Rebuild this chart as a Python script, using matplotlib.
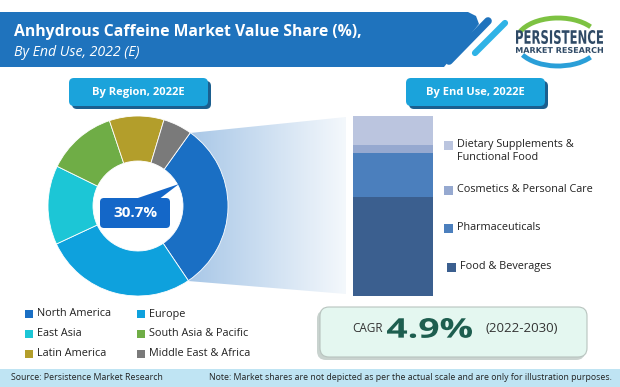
import numpy as np
import matplotlib
matplotlib.use("Agg")
import matplotlib.pyplot as plt
from matplotlib.patches import FancyBboxPatch, Polygon, Rectangle, PathPatch, Arc
from matplotlib.textpath import TextPath
from matplotlib.font_manager import FontProperties
from matplotlib.transforms import Affine2D

plt.rcParams['font.family'] = ['Open Sans', 'DejaVu Sans']

# donut data (by region, 2022E)
regions = ['North America', 'Europe', 'East Asia', 'South Asia & Pacific',
           'Latin America', 'Middle East & Africa']
region_share = [30.7, 27.5, 14.2, 12.6, 9.8, 5.2]
region_colors = ['#1a6fc4', '#0ea1dd', '#1cc6d6', '#6fad46', '#b39e2b', '#7a7a7a']

# stacked bar data (by end use, 2022E), bottom to top
end_uses = ['Food & Beverages', 'Pharmaceuticals', 'Cosmetics & Personal Care',
            'Dietary Supplements &\nFunctional Food']
end_use_share = [55.2, 24.1, 4.6, 16.1]
end_use_colors = ['#3b5f8f', '#4b7fbd', '#96a9d0', '#bbc5df']

highlight = '30.7%'
cagr = '4.9%'

W, H = 620, 387
fig = plt.figure(figsize=(W / 100, H / 100), dpi=100)

# background layer in pixel coordinates
bg = fig.add_axes([0, 0, 1, 1])
bg.set_xlim(0, W)
bg.set_ylim(H, 0)
bg.axis('off')

# title banner
banner = Polygon([(0, 12), (468, 12), (476, 16), (479, 24), (444, 67), (0, 67)],
                 closed=True, fc='#1f73bd', ec='none', zorder=2)
bg.add_patch(banner)
bg.plot([449, 488], [61, 21], color='#1f73bd', lw=5.5, solid_capstyle='round', zorder=2)
bg.plot([475, 505], [53, 23], color='#2fb3e6', lw=4.5, solid_capstyle='round', zorder=2)
bg.text(14, 32, 'Anhydrous Caffeine Market Value Share (%),', color='white',
        fontsize=11.3, fontweight='bold', va='center', zorder=3)
bg.text(14, 52, 'By End Use, 2022 (E)', color='white', fontsize=10.2,
        fontstyle='italic', va='center', zorder=3)


def fit_text(ax, s, x0, x1, ybase, height, color, family='DejaVu Sans', weight='bold'):
    tp = TextPath((0, 0), s, size=10, prop=FontProperties(family=family, weight=weight))
    ext = tp.get_extents()
    sx = (x1 - x0) / ext.width
    sy = height / ext.height
    tr = Affine2D().translate(-ext.x0, -ext.y0).scale(sx, -sy).translate(x0, ybase)
    ax.add_patch(PathPatch(tr.transform_path(tp), fc=color, ec='none', zorder=4))


# logo
bg.add_patch(Arc((558, 42), 84, 48, theta1=195, theta2=335, color='#7dc242', lw=3.5, zorder=3))
bg.add_patch(Arc((558, 42), 84, 48, theta1=25, theta2=160, color='#2a9fd8', lw=3.5, zorder=3))
fit_text(bg, 'PERSISTENCE', 516, 603, 44, 14, '#2f4a66')
fit_text(bg, 'MARKET RESEARCH', 516, 603, 53, 6, '#2f4a66')

# section badges
for x0, label in [(69, 'By Region, 2022E'), (406, 'By End Use, 2022E')]:
    bg.add_patch(FancyBboxPatch((x0 + 3, 81), 139, 28, boxstyle='round,pad=0,rounding_size=5',
                                fc='#1b5f8f', ec='none', zorder=2))
    bg.add_patch(FancyBboxPatch((x0, 78), 139, 28, boxstyle='round,pad=0,rounding_size=5',
                                fc='#1ba3db', ec='none', zorder=3))
    bg.text(x0 + 69, 92, label, color='white', fontsize=8, fontweight='bold',
            ha='center', va='center', zorder=4)

# funnel from donut to bar
funnel = Polygon([(190, 133), (346, 117), (346, 294), (188, 281)], closed=True,
                 fc='none', ec='none')
bg.add_patch(funnel)
grad = np.linspace(0, 1, 256).reshape(1, -1)
cmap = matplotlib.colors.LinearSegmentedColormap.from_list('f', ['#a8c7e7', '#f4f8fc'])
im = bg.imshow(grad, cmap=cmap, extent=[188, 346, 294, 117], aspect='auto', zorder=1)
im.set_clip_path(funnel)
bg.set_xlim(0, W)
bg.set_ylim(H, 0)

# region legend
for i, (name, col) in enumerate(zip(regions, region_colors)):
    r, c = divmod(i, 2)
    x = 25 + c * 112
    y = 314 + r * 20
    bg.add_patch(Rectangle((x, y - 4), 8, 8, fc=col, ec='none', zorder=3))
    bg.text(x + 12, y, name, fontsize=7.8, color='#222222', va='center', zorder=3)

# end use legend
leg_y = [267, 228, 190, 151]
for name, col, y in zip(end_uses, end_use_colors, leg_y):
    xs = 447 if name.startswith('Food') else 444
    bg.add_patch(Rectangle((xs, y - 4 if '\n' not in name else 141), 9, 9, fc=col, ec='none', zorder=3))
    bg.text(xs + 13, y, name, fontsize=7.8, color='#222222', va='center',
            linespacing=1.25, zorder=3)

# CAGR box
bg.add_patch(FancyBboxPatch((317, 310), 268, 50, boxstyle='round,pad=0,rounding_size=9',
                            fc='#c9d3cf', ec='none', zorder=2))
bg.add_patch(FancyBboxPatch((320, 307), 267, 50, boxstyle='round,pad=0,rounding_size=9',
                            fc='#e4f7f0', ec='#b8c4bf', lw=0.8, zorder=3))
bg.text(352, 329, 'CAGR', fontsize=8.5, color='#333333', va='center', zorder=4)
fit_text(bg, cagr, 387, 472, 338, 20, '#1d5e4f', family='Open Sans')
bg.text(485, 329, '(2022-2030)', fontsize=9.5, color='#333333', va='center', zorder=4)

# footer
bg.add_patch(Rectangle((0, 369), W, 18, fc='#bfe4f3', ec='none', zorder=2))
bg.text(11, 378, 'Source: Persistence Market Research', fontsize=6.3, color='#222222',
        va='center', zorder=3)
bg.text(612, 378, 'Note: Market shares are not depicted as per the actual scale and are only for illustration purposes.',
        fontsize=6.3, color='#222222', va='center', ha='right', zorder=3)

# donut
pax = fig.add_axes([48 / W, 1 - 296 / H, 180 / W, 180 / H])
pax.pie(region_share, colors=region_colors, startangle=54.5, counterclock=False,
        radius=1, wedgeprops=dict(width=0.5, edgecolor='white', linewidth=0.6))
pax.set_xlim(-1, 1)
pax.set_ylim(-1, 1)
pax.set_aspect('equal')
pax.axis('off')

# stacked bar
bax = fig.add_axes([353 / W, 1 - 296 / H, 80 / W, 180 / H])
bottom = 0
for v, col in zip(end_use_share, end_use_colors):
    bax.bar([0], [v], bottom=bottom, width=1, color=col, edgecolor='none')
    bottom += v
bax.set_xlim(-0.5, 0.5)
bax.set_ylim(0, 100)
bax.axis('off')

# callout over the donut hole
top = fig.add_axes([0, 0, 1, 1])
top.set_xlim(0, W)
top.set_ylim(H, 0)
top.axis('off')
top.patch.set_alpha(0)
top.add_patch(Polygon([(132, 200), (158, 200), (179, 184)], closed=True, fc='#1467c8', ec='none'))
top.add_patch(FancyBboxPatch((100, 198), 70, 30, boxstyle='round,pad=0,rounding_size=4',
                             fc='#1467c8', ec='none'))
top.text(135, 213, highlight, color='white', fontsize=11, fontweight='bold',
         ha='center', va='center')

fig.savefig('out.png', dpi=100)
